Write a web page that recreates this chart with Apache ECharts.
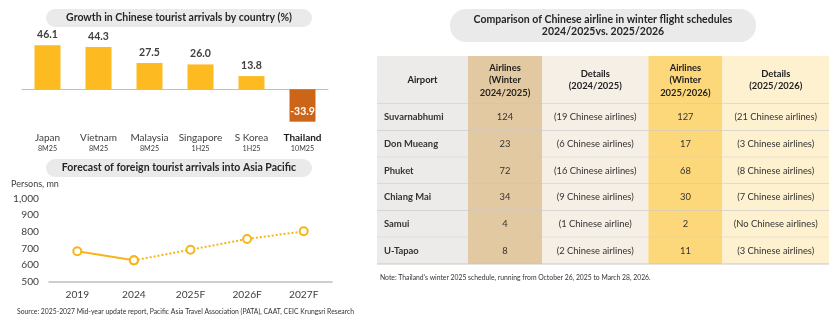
<!DOCTYPE html>
<html>
<head>
<meta charset="utf-8">
<script src="https://cdn.jsdelivr.net/npm/echarts@6/dist/echarts.min.js"></script>
<style>
  html, body { margin: 0; padding: 0; background: #fff; }
  #main { width: 840px; height: 326px; }
</style>
</head>
<body>
<div id="main"></div>
<script>
// Growth in Chinese tourist arrivals by destination (%)
const countries = ['Japan', 'Vietnam', 'Malaysia', 'Singapore', 'S Korea', 'Thailand'];
const periods = ['8M25', '8M25', '8M25', '1H25', '1H25', '10M25'];
const growth = [46.1, 44.3, 27.5, 26.0, 13.8, -33.9];

// Foreign tourist arrivals into Asia Pacific (persons, mn)
const years = ['2019', '2024', '2025F', '2026F', '2027F'];
const actualArrivals = [683, 628];
const forecastArrivals = [692, 756, 802];

// Chinese airlines in winter flight schedules
const tableHeaders = ['Airport', 'Airlines\n(Winter\n2024/2025)', 'Details\n(2024/2025)', 'Airlines\n(Winter\n2025/2026)', 'Details\n(2025/2026)'];
const airports = ['Suvarnabhumi', 'Don Mueang', 'Phuket', 'Chiang Mai', 'Samui', 'U-Tapao'];
const airlines2425 = [124, 23, 72, 34, 4, 8];
const details2425 = ['(19 Chinese airlines)', '(6 Chinese airlines)', '(16 Chinese airlines)', '(9 Chinese airlines)', '(1 Chinese airline)', '(2 Chinese airlines)'];
const airlines2526 = [127, 17, 68, 30, 2, 11];
const details2526 = ['(21 Chinese airlines)', '(3 Chinese airlines)', '(8 Chinese airlines)', '(7 Chinese airlines)', '(No Chinese airlines)', '(3 Chinese airlines)'];

const FONT = 'Lato';
const YELLOW = '#FDBA21';
const ORANGE = '#CD6519';
const LINE_YELLOW = '#F6B518';

// table layout: relative column widths and header height (in body-row units)
const colEdges = [0, 91, 165, 271.4, 345.4, 452];
const colFills = ['#EDEBEA', '#E2C9A1', '#F5EFE6', '#FDD87B', '#FEF1D0'];
const headerSpan = 1.8;

const columns = [airports, airlines2425, details2425, airlines2526, details2526];
function cellText(c, r) {
  return r === 0 ? tableHeaders[c] : String(columns[c][r - 1]);
}

const cells = [];
for (let r = 0; r <= airports.length; r++) {
  for (let c = 0; c < tableHeaders.length; c++) cells.push([c, r]);
}

function renderCell(params, api) {
  const c = api.value(0), r = api.value(1);
  const top = r === 0 ? 0 : headerSpan + r - 1;
  const bottom = r === 0 ? headerSpan : headerSpan + r;
  const p0 = api.coord([colEdges[c], top]);
  const p1 = api.coord([colEdges[c + 1], bottom]);
  const w = p1[0] - p0[0], h = p1[1] - p0[1];
  const leftAligned = c === 0 && r > 0;
  const bold = r === 0 || c === 0;
  return {
    type: 'group',
    children: [
      { type: 'rect', shape: { x: p0[0], y: p0[1], width: w, height: h }, style: { fill: colFills[c] } },
      { type: 'line', shape: { x1: p0[0], y1: p1[1], x2: p1[0], y2: p1[1] }, style: { stroke: '#C9C7C5', lineWidth: 1 } },
      {
        type: 'text',
        style: {
          text: cellText(c, r),
          x: leftAligned ? p0[0] + 7 : p0[0] + w / 2,
          y: p0[1] + h / 2,
          align: leftAligned ? 'left' : 'center',
          verticalAlign: 'middle',
          fontFamily: FONT,
          fontSize: 9.4,
          fontWeight: bold ? 'bold' : 'normal',
          lineHeight: 12.5,
          fill: r === 0 ? '#222' : '#333'
        }
      }
    ]
  };
}

// line series: solid for actuals, dotted for the forecast continuing from the last actual
const lastActual = actualArrivals.length - 1;
const actualSeries = years.map((_, i) => i <= lastActual ? actualArrivals[i] : null);
const forecastSeries = years.map((_, i) => i < lastActual ? null : (i === lastActual ? actualArrivals[lastActual] : forecastArrivals[i - actualArrivals.length]));

const chart = echarts.init(document.getElementById('main'), null, { renderer: 'canvas' });

const titleFont = { fontFamily: FONT, fontSize: 10.5, fontWeight: 'bold', fill: '#262626' };

chart.setOption({
  animation: false,
  backgroundColor: '#fff',
  textStyle: { fontFamily: FONT },
  grid: [
    { left: 22, top: 41.5, width: 306, height: 86 },
    { left: 49, top: 198.3, width: 283, height: 83.4 },
    { left: 377, top: 56, width: 452, height: 208 }
  ],
  xAxis: [
    {
      gridIndex: 0, type: 'category', data: countries,
      axisLine: { onZero: true, lineStyle: { color: '#BFBFBF', width: 1 } },
      axisTick: { show: false },
      axisLabel: {
        margin: 4, interval: 0,
        formatter: (v, i) => (i === countries.length - 1 ? `{nb|${v}}` : `{n|${v}}`) + `\n{p|${periods[i]}}`,
        rich: {
          n: { fontFamily: FONT, fontSize: 10, color: '#404040', lineHeight: 12 },
          nb: { fontFamily: FONT, fontSize: 10, fontWeight: 'bold', color: '#1a1a1a', lineHeight: 12 },
          p: { fontFamily: FONT, fontSize: 7.2, color: '#404040', lineHeight: 11 }
        }
      }
    },
    {
      gridIndex: 1, type: 'category', data: years,
      axisLine: { lineStyle: { color: '#BFBFBF', width: 1.5 } },
      axisTick: { show: false },
      axisLabel: { margin: 8, fontFamily: FONT, fontSize: 10.2, color: '#404040' }
    },
    { gridIndex: 2, type: 'value', min: 0, max: colEdges[colEdges.length - 1], show: false }
  ],
  yAxis: [
    { gridIndex: 0, type: 'value', min: -40, max: 50, show: false },
    {
      gridIndex: 1, type: 'value', min: 500, max: 1000, interval: 100,
      axisLine: { show: false }, axisTick: { show: false }, splitLine: { show: false },
      axisLabel: { margin: 10, fontFamily: FONT, fontSize: 10.2, color: '#404040', formatter: v => v.toLocaleString('en-US') }
    },
    { gridIndex: 2, type: 'value', min: 0, max: headerSpan + airports.length, inverse: true, show: false }
  ],
  series: [
    {
      type: 'bar', xAxisIndex: 0, yAxisIndex: 0, barWidth: 26,
      data: growth.map(v => v < 0
        ? { value: v, itemStyle: { color: ORANGE }, label: { position: 'insideBottom', distance: 5, color: '#fff' } }
        : { value: v, itemStyle: { color: YELLOW } }),
      label: {
        show: true, position: 'top', distance: 5,
        fontFamily: FONT, fontSize: 10.5, fontWeight: 'bold', color: '#404040',
        formatter: p => p.value.toFixed(1)
      }
    },
    {
      type: 'line', xAxisIndex: 1, yAxisIndex: 1, data: forecastSeries,
      symbol: 'emptyCircle', symbolSize: 8,
      lineStyle: { color: LINE_YELLOW, width: 2, type: 'dotted' },
      itemStyle: { color: LINE_YELLOW, borderWidth: 2 }
    },
    {
      type: 'line', xAxisIndex: 1, yAxisIndex: 1, data: actualSeries,
      symbol: 'emptyCircle', symbolSize: 8,
      lineStyle: { color: LINE_YELLOW, width: 2 },
      itemStyle: { color: LINE_YELLOW, borderWidth: 2 }
    },
    {
      type: 'custom', xAxisIndex: 2, yAxisIndex: 2, data: cells,
      encode: { x: 0, y: 1 }, clip: false, renderItem: renderCell
    }
  ],
  graphic: [
    { type: 'rect', shape: { x: 46, y: 9, width: 266, height: 18, r: 9 }, style: { fill: '#EAEAEA' } },
    { type: 'text', style: Object.assign({ x: 179, y: 18, text: 'Growth in Chinese tourist arrivals by country (%)', align: 'center', verticalAlign: 'middle' }, titleFont) },
    { type: 'rect', shape: { x: 46, y: 159, width: 266, height: 18, r: 9 }, style: { fill: '#EAEAEA' } },
    { type: 'text', style: Object.assign({ x: 179, y: 168, text: 'Forecast of foreign tourist arrivals into Asia Pacific', align: 'center', verticalAlign: 'middle' }, titleFont) },
    { type: 'rect', shape: { x: 450, y: 9, width: 306, height: 33, r: 16 }, style: { fill: '#EAEAEA' } },
    { type: 'text', style: Object.assign({ x: 603, y: 25.5, text: 'Comparison of Chinese airline in winter flight schedules\n2024/2025vs. 2025/2026', align: 'center', verticalAlign: 'middle', lineHeight: 12 }, titleFont) },
    { type: 'text', style: { x: 11, y: 184, text: 'Persons, mn', align: 'left', verticalAlign: 'middle', fontFamily: FONT, fontSize: 9, fill: '#404040' } },
    { type: 'text', style: { x: 17, y: 312, text: 'Source: 2025-2027 Mid-year update report, Pacific Asia Travel Association (PATA), CAAT, CEIC Krungsri Research', align: 'left', verticalAlign: 'middle', fontFamily: FONT, fontSize: 6.8, fill: '#333' } },
    { type: 'text', style: { x: 380, y: 278, text: "Note: Thailand's winter 2025 schedule, running from October 26, 2025 to March 28, 2026.", align: 'left', verticalAlign: 'middle', fontFamily: FONT, fontSize: 6.8, fill: '#333' } }
  ]
});
</script>
</body>
</html>
